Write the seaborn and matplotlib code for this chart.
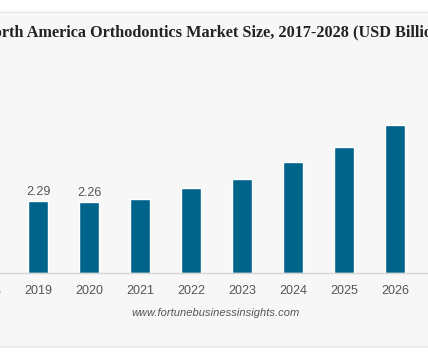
import matplotlib
matplotlib.use("Agg")
import matplotlib.pyplot as plt
import seaborn as sns
import pandas as pd
from matplotlib.patches import Rectangle

years = ["2017", "2018", "2019", "2020", "2021", "2022", "2023", "2024", "2025", "2026", "2027", "2028"]
values = [2.05, 2.17, 2.29, 2.26, 2.36, 2.71, 3.01, 3.53, 4.02, 4.73, 5.45, 6.20]
labelled_years = ["2017", "2018", "2019", "2020"]
title = "North America Orthodontics Market Size, 2017-2028 (USD Billion)"
source = "www.fortunebusinessinsights.com"

sns.set_theme(style="white")
plt.rcParams["font.family"] = ["Liberation Sans", "DejaVu Sans"]

W, H = 428, 357
fig = plt.figure(figsize=(W / 100, H / 100), dpi=100, facecolor="white")

# panel background with soft shadow edges
shade = ["#f1f1f1", "#ececec", "#eeeeee"]
for i, c in enumerate(shade):
    fig.patches.append(Rectangle((0, (H - 346 - i) / H), 1, 1 / H, transform=fig.transFigure,
                                 facecolor=c, edgecolor="none", zorder=0))
    fig.patches.append(Rectangle((0, (H - 12 - i) / H), 1, 1 / H, transform=fig.transFigure,
                                 facecolor=c, edgecolor="none", zorder=0))
fig.patches.append(Rectangle((0, (H - 345) / H), 1, 330 / H, transform=fig.transFigure,
                             facecolor="#f7f7f7", edgecolor="none", zorder=0))

step = 51.0
left_px = 38 - 2.5 * step
ymax = 6.95
ax = fig.add_axes([left_px / W, 84 / H, 12 * step / W, 218 / H])
ax.set_facecolor("none")
ax.set_zorder(2)

df = pd.DataFrame({"year": years, "value": values})
sns.barplot(data=df, x="year", y="value", color="#00648a", saturation=1, width=0.4, ax=ax)

ax.set_xlim(-0.5, len(years) - 0.5)
ax.set_ylim(0, ymax)
ax.set_xlabel("")
ax.set_ylabel("")
ax.set_yticks([])
for s in ["top", "right", "left"]:
    ax.spines[s].set_visible(False)
ax.spines["bottom"].set_color("#d5d5d5")
ax.spines["bottom"].set_linewidth(1.0)
ax.tick_params(axis="x", length=0, pad=9, labelsize=9, labelcolor="#555555")

for i, (y, v) in enumerate(zip(years, values)):
    if y in labelled_years:
        ax.annotate(f"{v:.2f}", (i, v), xytext=(0, 2), textcoords="offset points",
                    ha="center", va="bottom", fontsize=9, color="#555555")

fig.text(0.5, 1 - 32 / H, title, ha="center", va="center", fontsize=11.7,
         fontweight="bold", color="#222222", family=["Liberation Serif", "DejaVu Serif"])
fig.text(216 / W, 1 - 313 / H, source, ha="center", va="center", fontsize=8,
         style="italic", color="#555555")

fig.savefig("out.png", dpi=100, facecolor="white")
